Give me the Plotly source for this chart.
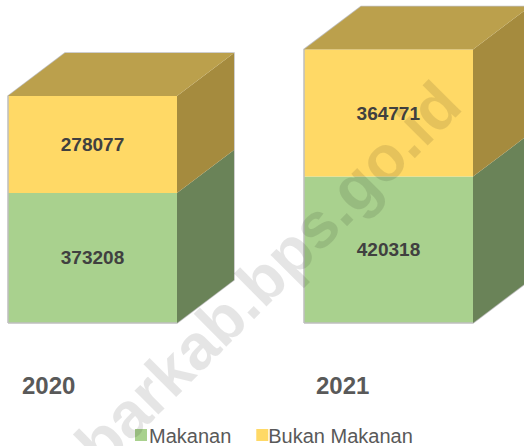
import plotly.graph_objects as go

years = ["2020", "2021"]
makanan = [373208, 420318]
bukan_makanan = [278077, 364771]

W, H = 524, 446
X_PX = 296.0        # pixels per category step
X0_PX = 92.5        # pixel of first category centre
Y_PX = 2870.0       # value units per pixel
Y0_PX = 323.0       # pixel of the zero line
BAR_W = 169 / X_PX
DX = 57 / X_PX      # 3-D depth on x
DY = 43 * Y_PX      # 3-D depth on y

GREEN, YELLOW = "#A9D18E", "#FFD966"
GREEN_SIDE, YELLOW_SIDE, TOP = "#6A8358", "#A58B3E", "#BBA04C"

fig = go.Figure()


def face(xs, ys, color):
    fig.add_trace(go.Scatter(x=xs, y=ys, mode="lines", fill="toself", fillcolor=color,
                             line=dict(color=color, width=0), showlegend=False, hoverinfo="skip"))


for i in range(len(years)):
    r = i + BAR_W / 2
    l = i - BAR_W / 2
    m, t = makanan[i], makanan[i] + bukan_makanan[i]
    fig.add_trace(go.Scatter(x=[l, r, r + DX, r + DX, l + DX, l, l], y=[0, 0, DY, t + DY, t + DY, t, 0],
                             mode="lines", line=dict(color="#BFBFBF", width=1.5),
                             showlegend=False, hoverinfo="skip"))
    face([r, r + DX, r + DX, r, r], [0, DY, m + DY, m, 0], GREEN_SIDE)
    face([r, r + DX, r + DX, r, r], [m, m + DY, t + DY, t, m], YELLOW_SIDE)
    face([l, l + DX, r + DX, r, l], [t, t + DY, t + DY, t, t], TOP)

xs = list(range(len(years)))
for name, vals, color, base in [
    ("Makanan", makanan, GREEN, None),
    ("Bukan Makanan", bukan_makanan, YELLOW, makanan),
]:
    fig.add_trace(go.Bar(
        x=xs, y=vals, base=base, name=name, width=BAR_W, marker=dict(color=color, line=dict(width=0)),
        text=[str(v) for v in vals], textposition="inside", insidetextanchor="middle", textangle=0,
        insidetextfont=dict(family="Liberation Sans", size=19, color="#404040", weight="bold"),
        cliponaxis=False,
    ))

label_offsets = [-0.149, -0.156]
annotations = [
    dict(x=i + label_offsets[i], y=-62 * Y_PX, xref="x", yref="y", text=f"<b>{y}</b>", showarrow=False,
         font=dict(family="Liberation Sans", size=24, color="#595959"))
    for i, y in enumerate(years)
]
annotations.append(dict(xref="paper", yref="paper", x=268 / W, y=1 - 274 / H, text="<b>barkab.bps.go.id</b>",
                        showarrow=False, textangle=-45,
                        font=dict(family="Liberation Sans", size=64, color="rgba(0,0,0,0.1)")))

fig.update_layout(
    width=W, height=H, margin=dict(l=0, r=0, t=0, b=0, autoexpand=False),
    paper_bgcolor="white", plot_bgcolor="white", barmode="overlay", showlegend=True,
    xaxis=dict(range=[-X0_PX / X_PX, (W - X0_PX) / X_PX], visible=False, fixedrange=True),
    yaxis=dict(range=[(Y0_PX - H) * Y_PX, Y0_PX * Y_PX], visible=False, fixedrange=True),
    legend=dict(orientation="h", x=109 / W, xanchor="left", y=1 - 435 / H, yanchor="middle",
                font=dict(family="Liberation Sans", size=20, color="#595959"),
                bgcolor="rgba(0,0,0,0)"),
    annotations=annotations,
)
post = """
document.body.style.margin='0';
document.body.style.overflow='hidden';
var s=document.createElement('style');
s.textContent='.legendsymbols{transform:translateX(12px);}'
 + '.traces:nth-child(2) .legendsymbols{transform:translateX(6px);}'
 + '.traces:nth-child(2) .legendtext{transform:translateX(-8px);}';
document.head.appendChild(s);
"""
fig.write_html("out.html", post_script=post, config={"displayModeBar": False})
